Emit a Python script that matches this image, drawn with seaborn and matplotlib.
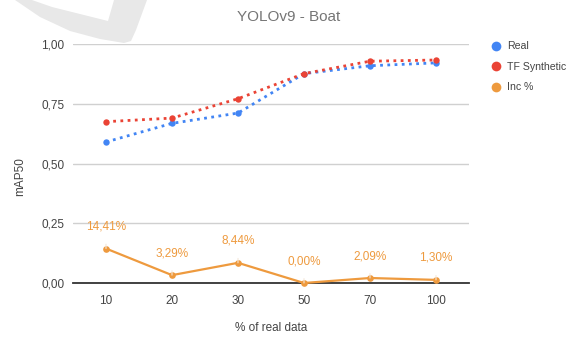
import matplotlib
matplotlib.use("Agg")
import matplotlib.pyplot as plt
from matplotlib.lines import Line2D
from matplotlib.patches import Polygon
from matplotlib.ticker import FuncFormatter
import seaborn as sns
import pandas as pd

# Data
categories = ["10", "20", "30", "50", "70", "100"]
real = [0.590, 0.668, 0.711, 0.876, 0.909, 0.921]
tf_synthetic = [0.675, 0.690, 0.771, 0.876, 0.928, 0.933]
inc_pct = [0.1441, 0.0329, 0.0844, 0.0000, 0.0209, 0.0130]
y_ticks = [0.0, 0.25, 0.5, 0.75, 1.0]

BLUE = "#4285F4"
RED = "#EA4335"
ORANGE = "#EE9A3E"

sns.set_style("white")
plt.rcParams["font.family"] = ["Liberation Sans", "DejaVu Sans"]

df = pd.DataFrame({"pct": categories, "Real": real,
                   "TF Synthetic": tf_synthetic, "Inc %": inc_pct})

W, H = 571, 338
fig = plt.figure(figsize=(W / 100, H / 100), dpi=100)

# Faint background logo shape in the top-left corner
logo = [(15, 0), (40, 17), (70, 31), (100, 39), (124, 43), (131, 41),
        (136, 30), (147, 0), (114, 0), (108, 21), (80, 14), (52, 7), (32, 0)]
fig.patches.append(Polygon([(x / W, 1 - y / H) for x, y in logo],
                           closed=True, transform=fig.transFigure,
                           facecolor="#e8e8e8", edgecolor="none", zorder=0))

ax = fig.add_axes([73 / W, 1 - 283 / H, (469 - 73) / W, (283 - 44) / H])
ax.patch.set_alpha(0)

dotted = (0, (1, 1.6))
sns.lineplot(data=df, x="pct", y="Real", ax=ax, color=BLUE, lw=2,
             linestyle=dotted, marker="o", markersize=4.6,
             markeredgewidth=0, sort=False, zorder=3)
sns.lineplot(data=df, x="pct", y="TF Synthetic", ax=ax, color=RED, lw=2,
             linestyle=dotted, marker="o", markersize=4.6,
             markeredgewidth=0, sort=False, zorder=4)
sns.lineplot(data=df, x="pct", y="Inc %", ax=ax, color=ORANGE, lw=1.6,
             marker="o", markersize=4.8, markeredgewidth=0, sort=False,
             zorder=5, clip_on=False)

# Value labels for the increase series
for i, v in enumerate(inc_pct):
    txt = f"{v * 100:.2f}%".replace(".", ",")
    ax.annotate(txt, xy=(i, v), xytext=(0, 22), textcoords="offset pixels",
                ha="center", va="center", color=ORANGE, fontsize=8.5,
                arrowprops=dict(arrowstyle="-", color="#f4e6d8", lw=0.8,
                                shrinkA=6, shrinkB=4), zorder=6)

ax.set_xlim(-0.5, len(categories) - 0.5)
ax.set_ylim(0, 1)
ax.set_yticks(y_ticks)
ax.yaxis.set_major_formatter(FuncFormatter(lambda v, p: f"{v:.2f}".replace(".", ",")))
ax.grid(axis="y", color="#d0d0d0", lw=1)
ax.grid(axis="x", visible=False)
for s in ["top", "right", "left"]:
    ax.spines[s].set_visible(False)
ax.spines["bottom"].set_color("#333333")
ax.spines["bottom"].set_linewidth(1.3)
ax.spines["bottom"].set_zorder(2)
ax.tick_params(axis="x", direction="inout", length=8, width=1, color="#333333",
               labelsize=8.5, labelcolor="#444444", pad=5)
ax.tick_params(axis="y", length=0, labelsize=8.5, labelcolor="#444444", pad=6)

ax.set_xlabel("% of real data", fontsize=8.5, color="#444444")
ax.set_ylabel("mAP50", fontsize=8.5, color="#444444")
ax.xaxis.set_label_coords(0.5, -(328 - 283) / (283 - 44))
ax.yaxis.set_label_coords(-(73 - 20) / (469 - 73), (283 - 177) / (283 - 44))
ax.xaxis.label.set_va("center")
ax.yaxis.label.set_va("center")

fig.text(289 / W, 1 - 17 / H, "YOLOv9 - Boat", ha="center", va="center",
         fontsize=11, color="#757575")

handles = [Line2D([], [], ls="none", marker="o", markersize=7, color=c,
                  markeredgewidth=0) for c in (BLUE, RED, ORANGE)]
fig.legend(handles, ["Real", "TF Synthetic", "Inc %"], loc="upper left",
           bbox_to_anchor=(485 / W, 1 - 36 / H), frameon=False,
           fontsize=7.6, labelcolor="#444444", handlelength=1.0,
           handletextpad=0.6, labelspacing=1.0, borderpad=0)

fig.savefig("out.png", dpi=100)
